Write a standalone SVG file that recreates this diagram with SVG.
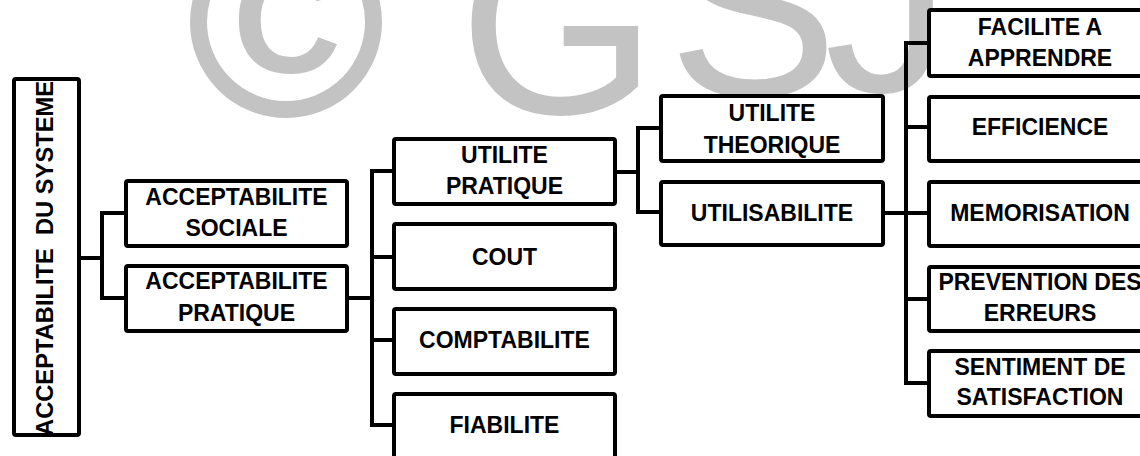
<svg xmlns="http://www.w3.org/2000/svg" width="1140" height="456" viewBox="0 0 1140 456">
<style>
.box{fill:#fff;stroke:#000;stroke-width:4;}
.lbl{font-family:"Liberation Sans",Arial,sans-serif;font-weight:bold;font-size:23px;fill:#000;text-anchor:middle;}
.con{fill:none;stroke:#000;stroke-width:4;stroke-linejoin:miter;stroke-linecap:square;}
.wm{font-family:"Liberation Sans",Arial,sans-serif;fill:#c3c3c3;text-anchor:middle;}
</style>
<rect width="1140" height="456" fill="#fff"/>
<g id="watermark">
<circle cx="286" cy="22" r="87.5" fill="none" stroke="#c3c3c3" stroke-width="17"/>
<text class="wm" x="287" y="73" font-size="150" font-weight="bold">C</text>
<text class="wm" x="558" y="114" font-size="255">G</text>
<text class="wm" x="753" y="96" font-size="255">S</text>
<text class="wm" x="888" y="92" font-size="255">J</text>
</g>
<g id="connectors">
<path class="con" d="M81 258H102M102 213V298M102 213H126M102 298H126"/>
<path class="con" d="M347 298H372M372 171V425M372 171H394M372 257H394M372 340H394M372 425H394"/>
<path class="con" d="M615 172H638M638 128V212M638 128H661M638 212H661"/>
<path class="con" d="M883 213H906M906 43V383M906 43H929M906 127H929M906 213H929M906 299H929M906 383H929"/>
</g>
<g id="n-root">
<rect class="box" x="14" y="79" width="65" height="356" rx="2"/>
<text class="lbl" transform="translate(53,258.5) rotate(-90)" x="0" y="0" textLength="355" lengthAdjust="spacingAndGlyphs" xml:space="preserve">ACCEPTABILITE  DU SYSTEME</text>
</g>
<g id="n-sociale">
<rect class="box" x="126" y="181" width="221" height="65" rx="2"/>
<text class="lbl" x="236.5" y="205">ACCEPTABILITE</text>
<text class="lbl" x="236.5" y="236">SOCIALE</text>
</g>
<g id="n-pratique">
<rect class="box" x="126" y="266" width="221" height="65" rx="2"/>
<text class="lbl" x="236.5" y="289">ACCEPTABILITE</text>
<text class="lbl" x="236.5" y="321">PRATIQUE</text>
</g>
<g id="n-utilite-pratique">
<rect class="box" x="394" y="139" width="221" height="65" rx="2"/>
<text class="lbl" x="504.5" y="163">UTILITE</text>
<text class="lbl" x="504.5" y="194">PRATIQUE</text>
</g>
<g id="n-cout">
<rect class="box" x="394" y="224" width="221" height="65" rx="2"/>
<text class="lbl" x="504.5" y="265">COUT</text>
</g>
<g id="n-comptabilite">
<rect class="box" x="394" y="309" width="221" height="65" rx="2"/>
<text class="lbl" x="504.5" y="348">COMPTABILITE</text>
</g>
<g id="n-fiabilite">
<rect class="box" x="394" y="394" width="221" height="65" rx="2"/>
<text class="lbl" x="504.5" y="433">FIABILITE</text>
</g>
<g id="n-utilite-theorique">
<rect class="box" x="661" y="96" width="222" height="65" rx="2"/>
<text class="lbl" x="772" y="121">UTILITE</text>
<text class="lbl" x="772" y="153">THEORIQUE</text>
</g>
<g id="n-utilisabilite">
<rect class="box" x="661" y="182" width="222" height="63" rx="2"/>
<text class="lbl" x="772" y="221">UTILISABILITE</text>
</g>
<g id="n-facilite">
<rect class="box" x="929" y="10" width="222" height="66" rx="2"/>
<text class="lbl" x="1040" y="35">FACILITE A</text>
<text class="lbl" x="1040" y="66">APPRENDRE</text>
</g>
<g id="n-efficience">
<rect class="box" x="929" y="97" width="222" height="64" rx="2"/>
<text class="lbl" x="1040" y="135">EFFICIENCE</text>
</g>
<g id="n-memorisation">
<rect class="box" x="929" y="182" width="222" height="64" rx="2"/>
<text class="lbl" x="1040" y="221">MEMORISATION</text>
</g>
<g id="n-prevention">
<rect class="box" x="929" y="267" width="222" height="64" rx="2"/>
<text class="lbl" x="1040" y="290">PREVENTION DES</text>
<text class="lbl" x="1040" y="321">ERREURS</text>
</g>
<g id="n-sentiment">
<rect class="box" x="929" y="351" width="222" height="65" rx="2"/>
<text class="lbl" x="1040" y="375">SENTIMENT DE</text>
<text class="lbl" x="1040" y="405">SATISFACTION</text>
</g>
</svg>
